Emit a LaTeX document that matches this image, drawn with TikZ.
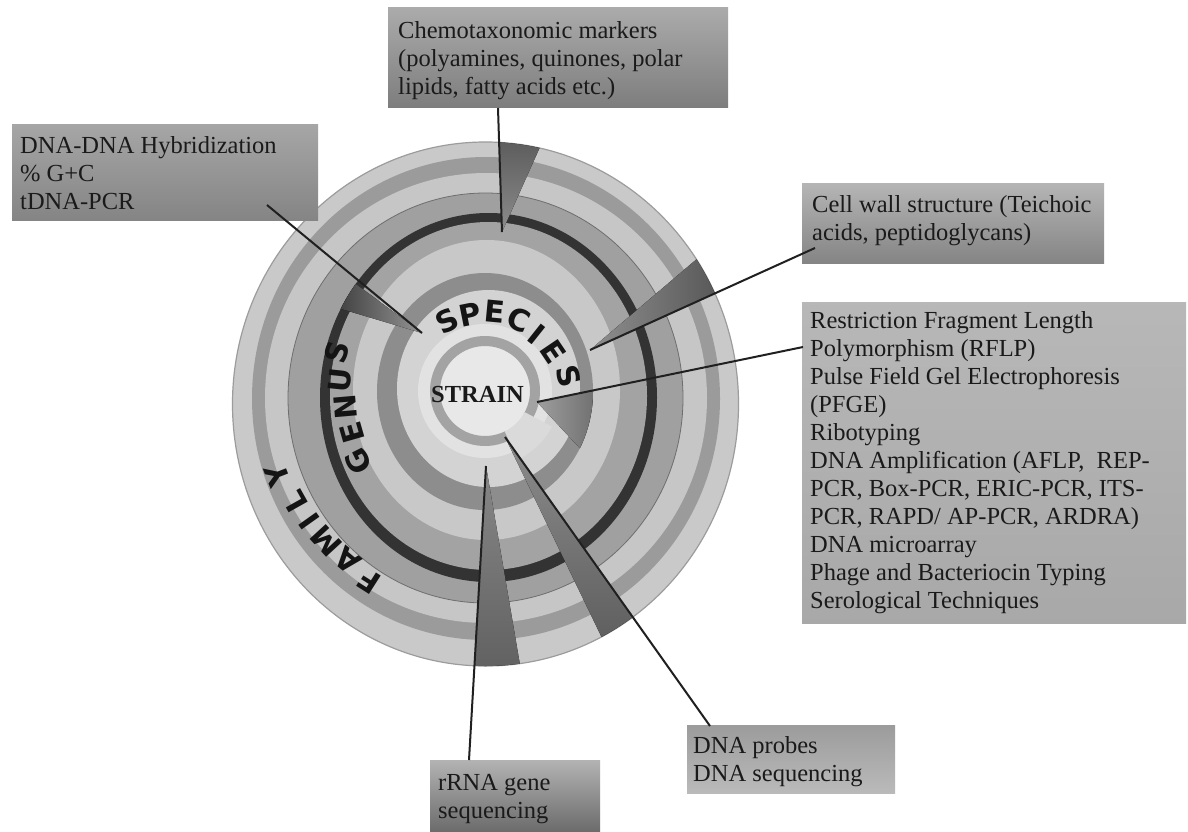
\documentclass[tikz,border=0pt]{standalone}
\usepackage{fontspec}
\setmainfont{Liberation Serif}
\newfontfamily\ringfont{DejaVu Sans}
\usetikzlibrary{calc}
\definecolor{cOuter}{HTML}{C9C9C9}
\definecolor{cEdge}{HTML}{9C9C9C}
\definecolor{cRingB}{HTML}{9B9B9B}
\definecolor{cLight}{HTML}{C6C6C6}
\definecolor{cMid}{HTML}{A0A0A0}
\definecolor{cMidEdge}{HTML}{6E6E6E}
\definecolor{cBlack}{HTML}{333333}
\definecolor{cGenus}{HTML}{A3A3A3}
\definecolor{cLightB}{HTML}{C8C8C8}
\definecolor{cSpRing}{HTML}{8D8D8D}
\definecolor{cSpBand}{HTML}{D3D3D3}
\definecolor{cInner}{HTML}{E2E2E2}
\definecolor{cStrain}{HTML}{A3A3A3}
\definecolor{cCenter}{HTML}{E8E8E8}
\definecolor{cPatch}{HTML}{DADADA}
\definecolor{cText}{HTML}{1A1A1A}
\definecolor{cLine}{HTML}{202020}
\begin{document}
\begin{tikzpicture}[x=1pt,y=-1pt,
  boxbg/.style={anchor=north west, inner sep=0pt, outer sep=0pt},
  boxtxt/.style={anchor=north west, inner sep=0pt, align=left, text=cText,
    font=\fontsize{24.5}{28}\selectfont},
  lead/.style={line width=2pt, draw=cLine},
  ringletter/.style={font=\ringfont\bfseries\fontsize{30}{30}\selectfont,
    inner sep=0pt, text=black!92},
]
\useasboundingbox (0,0) rectangle (1188,832);
\fill[white] (0,0) rectangle (1188,832);

% ---------------- rings ----------------
\fill[cOuter] (485.5,404) ellipse[x radius=253, y radius=262];
\draw[cEdge, line width=1.2pt] (485.5,404) ellipse[x radius=253, y radius=262];
\fill[cRingB] (486,398.5) ellipse[x radius=234, y radius=241.5];
\fill[cLight] (486,398) ellipse[x radius=221, y radius=225];
\fill[cMid] (485.5,398) ellipse[x radius=197.5, y radius=205];
\draw[cMidEdge, line width=0.8pt] (485.5,398) ellipse[x radius=197.5, y radius=205];
\fill[cBlack] (488.5,397.5) ellipse[x radius=168.5, y radius=184.5];
\fill[cGenus] (488.5,396) ellipse[x radius=158.5, y radius=174];
\fill[cLightB] (486.5,390) ellipse[x radius=133.5, y radius=150];
\fill[cSpRing] (485,391.5) ellipse[x radius=108, y radius=118.5];
\fill[cSpBand] (488.5,388.5) ellipse[x radius=91.5, y radius=98.5];
\fill[cInner] (485,391) circle[radius=67];
\fill[cCenter] (485,391) circle[radius=45];
\draw[cStrain, line width=10pt] (485,391) ++(64:50) arc[start angle=64, end angle=391, radius=50];

% ---------------- wedges ----------------
\begin{scope}
  \clip (485,391.5) ellipse[x radius=108, y radius=118.5];
  \fill[left color=black!38, right color=black!70] (537,402) -- (640,380.8) -- (600,470) -- cycle;
\end{scope}
\fill[cPatch] ($(485,391)+(28:76)$) arc[start angle=28, end angle=64, radius=76]
  -- ($(485,391)+(64:45)$) arc[start angle=64, end angle=28, radius=45] -- cycle;
\begin{scope}
  \clip (488.5,397.5) ellipse[x radius=168.5, y radius=184.5];
  \fill[left color=black!82, right color=black!42] (422,333) -- (318,256) -- (318,302) -- cycle;
\end{scope}
\begin{scope}
  \clip (485.5,404) ellipse[x radius=253, y radius=262];
  \fill[top color=black!68, bottom color=black!45] (502,232) -- (498,120) -- (552,120) -- cycle;
  \fill[left color=black!44, right color=black!70] (590,350) -- (745,279.8) -- (745,218) -- cycle;
  \fill[top color=black!45, bottom color=black!68] (505,437) -- (691,700) -- (632,700) -- cycle;
  \fill[top color=black!47, bottom color=black!64] (486,466) -- (472.5,700) -- (526,700) -- cycle;
\end{scope}

% ---------------- ring labels ----------------
\node[font=\bfseries\fontsize{24.5}{24.5}\selectfont, inner sep=0pt, text=cText] (strain) at (477.5,395) {STRAIN};

\node[ringletter, rotate=26.9]  (sp1) at (447,321) {S};
\node[ringletter, rotate=11.3]  (sp2) at (470,315) {P};
\node[ringletter, rotate=-5.4]  (sp3) at (495,312) {E};
\node[ringletter, rotate=-23.1] (sp4) at (519,320) {C};
\node[ringletter, rotate=-38.4] (sp5) at (537,334) {I};
\node[ringletter, rotate=-55.9] (sp6) at (553,352) {E};
\node[ringletter, rotate=-75.6] (sp7) at (569,376) {S};

\node[ringletter, rotate=116.7] (ge1) at (358,461) {G};
\node[ringletter, rotate=106]   (ge2) at (352,433) {E};
\node[ringletter, rotate=95]    (ge3) at (346,407) {N};
\node[ringletter, rotate=84.1]  (ge4) at (340,380) {U};
\node[ringletter, rotate=74.3]  (ge5) at (337,352) {S};

\node[ringletter, rotate=147.5] (fa1) at (369,581) {F};
\node[ringletter, rotate=140.5] (fa2) at (348,561) {A};
\node[ringletter, rotate=132.6] (fa3) at (326,541) {M};
\node[ringletter, rotate=125.4] (fa4) at (309,521) {I};
\node[ringletter, rotate=119.3] (fa5) at (295,502) {L};
\node[ringletter, rotate=111.3] (fa6) at (277,475) {Y};

% ---------------- boxes ----------------
\node[boxbg, minimum width=340pt, minimum height=100pt, top color=black!33, bottom color=black!51] (chembox) at (388,8) {};
\node[boxbg, minimum width=306pt, minimum height=95pt, top color=black!35, bottom color=black!48] (dnabox) at (12,125) {};
\node[boxbg, minimum width=302pt, minimum height=80pt, top color=black!29, bottom color=black!48] (cellbox) at (802,183) {};
\node[boxbg, minimum width=384pt, minimum height=321pt, top color=black!28, bottom color=black!34] (bigbox) at (802,302) {};
\node[boxbg, minimum width=208pt, minimum height=68pt, top color=black!39, bottom color=black!27] (probebox) at (687,725) {};
\node[boxbg, minimum width=170pt, minimum height=72pt, top color=black!30, bottom color=black!58] (rrnabox) at (430,760) {};

\node[boxtxt] (chemtxt) at (398,18.4) {\strut Chemotaxonomic markers\\\strut (polyamines, quinones, polar\\\strut lipids, fatty acids etc.)};
\node[boxtxt] (dnatxt) at (20,133.4) {\strut DNA-DNA Hybridization\\\strut \% G+C\\\strut tDNA-PCR};
\node[boxtxt] (celltxt) at (812,192.4) {\strut Cell wall structure (Teichoic\\\strut acids, peptidoglycans)};
\node[boxtxt] (bigtxt) at (810,308.4) {\strut Restriction Fragment Length\\\strut Polymorphism (RFLP)\\\strut Pulse Field Gel Electrophoresis\\\strut (PFGE)\\\strut Ribotyping\\\strut DNA Amplification (AFLP,~ REP-\\\strut PCR, Box-PCR, ERIC-PCR, ITS-\\\strut PCR, RAPD/ AP-PCR, ARDRA)\\\strut DNA microarray\\\strut Phage and Bacteriocin Typing\\\strut Serological Techniques};
\node[boxtxt] (probetxt) at (693,733.4) {\strut DNA probes\\\strut DNA sequencing};
\node[boxtxt] (rrnatxt) at (438,770.4) {\strut rRNA gene\\\strut sequencing};

% ---------------- connectors ----------------
\coordinate (dnaS) at (267,205);   \coordinate (dnaT) at (422,333);
\coordinate (chemS) at (498,108);  \coordinate (chemT) at (502,232);
\coordinate (cellS) at (815,248);  \coordinate (cellT) at (590,350);
\coordinate (rflpS) at (803,347);  \coordinate (rflpT) at (537,402);
\coordinate (probeS) at (710,726); \coordinate (probeT) at (505,437);
\coordinate (rrnaS) at (469,760);  \coordinate (rrnaT) at (486,466);
\draw[lead] (dnaS) -- (dnaT);
\draw[lead] (chemS) -- (chemT);
\draw[lead] (cellS) -- (cellT);
\draw[lead] (rflpS) -- (rflpT);
\draw[lead] (probeS) -- (probeT);
\draw[lead] (rrnaS) -- (rrnaT);
\end{tikzpicture}
\end{document}
